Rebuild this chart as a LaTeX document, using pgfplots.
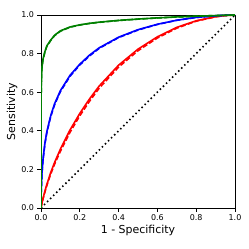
\documentclass[border=0pt]{standalone}
\usepackage{fontspec}
\setmainfont{DejaVu Sans}
\usepackage{pgfplots}
\pgfplotsset{compat=1.18}
\definecolor{mplgreen}{rgb}{0,0.5,0}
\begin{document}
\begin{tikzpicture}
\begin{axis}[
  width=194bp, height=193bp, scale only axis,
  xmin=0, xmax=1, ymin=0, ymax=1,
  xtick={0,0.2,0.4,0.6,0.8,1.0},
  ytick={0,0.2,0.4,0.6,0.8,1.0},
  /pgf/number format/assume math mode=true,
  xticklabel style={/pgf/number format/fixed,/pgf/number format/precision=1,/pgf/number format/fixed zerofill},
  yticklabel style={/pgf/number format/fixed,/pgf/number format/precision=1,/pgf/number format/fixed zerofill},
  tick label style={font=\fontsize{8}{9}\selectfont},
  label style={font=\fontsize{11}{13}\selectfont},
  tick align=outside, tick pos=left,
  major tick length=3.5bp,
  every tick/.style={black, line width=0.8bp},
  axis line style={line width=0.8bp},
  xlabel={1 - Specificity},
  ylabel={Sensitivity},
  xlabel style={at={(axis description cs:0.5,-0.119)}, anchor=center},
  ylabel style={at={(axis description cs:-0.149,0.5)}, anchor=center},
  clip=true,
]
\coordinate (sw) at (rel axis cs:0,0);
\coordinate (ne) at (rel axis cs:1,1);
% diagonal
\addplot[black, line width=1.6bp, dash pattern=on 1.5bp off 2.8bp] coordinates {(0,0) (1,1)};
% red solid
\addplot[red, line width=1.6bp] coordinates {
(0,0) (0.001,0.0059) (0.005,0.0259) (0.01,0.048) (0.02,0.087) (0.03,0.1216) (0.05,0.1835) (0.07,0.236) (0.1,0.305) (0.15,0.405) (0.2,0.490) (0.25,0.565) (0.3,0.632) (0.4,0.740) (0.5,0.823) (0.6,0.887) (0.7,0.936) (0.8,0.970) (0.9,0.9912) (0.95,0.9973) (1,1)};
\addplot[red, line width=1.6bp, dash pattern=on 5bp off 2.2bp] coordinates {
(0,0) (0.001,0.0054) (0.005,0.0241) (0.01,0.045) (0.02,0.082) (0.03,0.1155) (0.05,0.1755) (0.07,0.227) (0.1,0.294) (0.15,0.393) (0.2,0.478) (0.25,0.553) (0.3,0.621) (0.4,0.730) (0.5,0.815) (0.6,0.881) (0.7,0.932) (0.8,0.968) (0.9,0.9905) (0.95,0.9971) (1,1)};
% blue solid
\addplot[blue, line width=1.6bp] coordinates {
(0,0) (0.001,0.0835) (0.005,0.182) (0.01,0.249) (0.02,0.335) (0.03,0.395) (0.05,0.478) (0.07,0.540) (0.1,0.608) (0.15,0.688) (0.2,0.745) (0.25,0.792) (0.3,0.830) (0.4,0.885) (0.5,0.924) (0.6,0.952) (0.7,0.973) (0.8,0.9876) (0.9,0.996) (0.95,0.9988) (1,1)};
\addplot[blue, line width=1.6bp, dash pattern=on 5bp off 2.2bp] coordinates {
(0,0) (0.001,0.080) (0.005,0.178) (0.01,0.245) (0.02,0.330) (0.03,0.390) (0.05,0.473) (0.07,0.535) (0.1,0.603) (0.15,0.683) (0.2,0.741) (0.25,0.788) (0.3,0.827) (0.4,0.883) (0.5,0.922) (0.6,0.951) (0.7,0.9725) (0.8,0.9872) (0.9,0.9958) (0.95,0.9987) (1,1)};
% green solid
\addplot[mplgreen, line width=1.6bp] coordinates {
(0,0) (0,0.45) (0.001,0.60) (0.003,0.69) (0.005,0.73) (0.01,0.77) (0.02,0.81) (0.03,0.84) (0.05,0.87) (0.07,0.895) (0.1,0.918) (0.15,0.938) (0.2,0.949) (0.25,0.957) (0.3,0.963) (0.4,0.972) (0.5,0.979) (0.6,0.985) (0.7,0.99) (0.8,0.994) (0.9,0.997) (0.95,0.9985) (1,1)};
\addplot[mplgreen, line width=1.6bp, dash pattern=on 5bp off 2.2bp] coordinates {
(0,0) (0,0.44) (0.001,0.594) (0.003,0.685) (0.005,0.726) (0.01,0.766) (0.02,0.807) (0.03,0.837) (0.05,0.868) (0.07,0.893) (0.1,0.916) (0.15,0.937) (0.2,0.948) (0.25,0.956) (0.3,0.962) (0.4,0.9715) (0.5,0.9785) (0.6,0.9847) (0.7,0.9898) (0.8,0.9938) (0.9,0.9969) (0.95,0.9984) (1,1)};
\end{axis}
\pgfresetboundingbox
\path ([shift={(-41bp,-41bp)}]sw) rectangle ([shift={(14bp,15bp)}]ne);
\end{tikzpicture}
\end{document}
